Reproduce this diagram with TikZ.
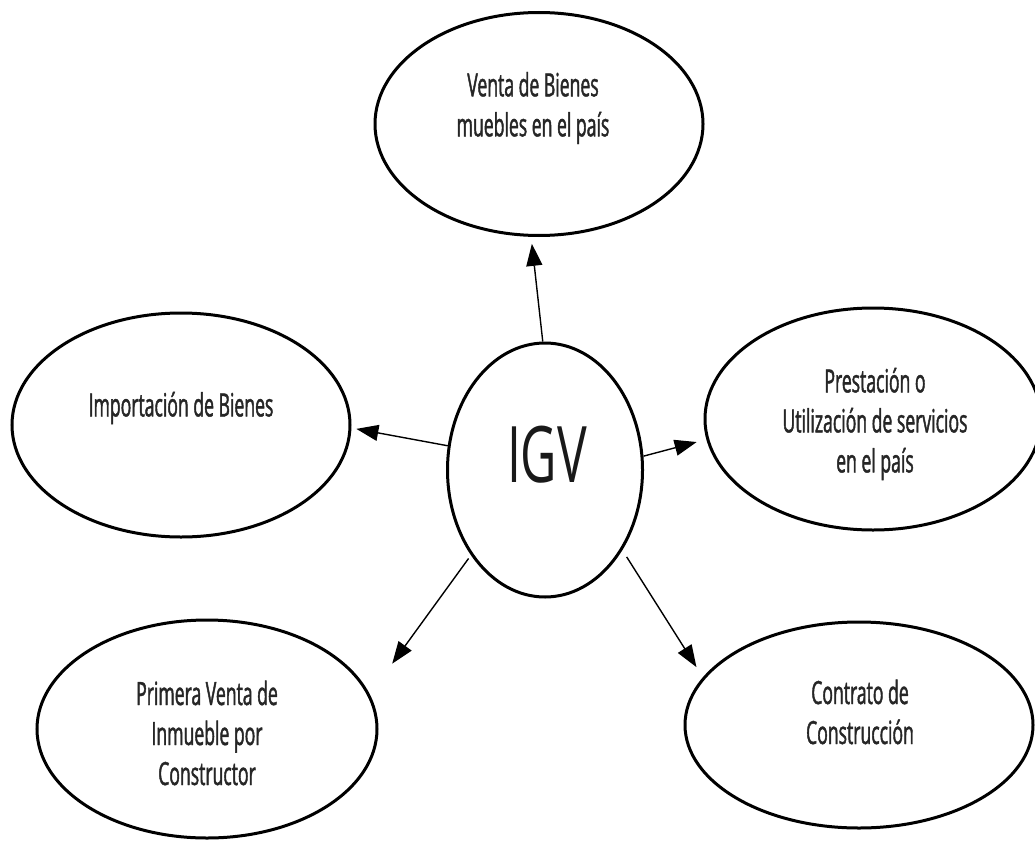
\documentclass[tikz,border=0pt]{standalone}
\usepackage{fontspec}
\setmainfont{Open Sans}[FakeStretch=0.55,FakeBold=1.3]
\newfontfamily\igvfont{Open Sans}[FakeStretch=0.64]
\usetikzlibrary{calc,shapes,arrows.meta,positioning}
\tikzset{
  bubble/.style={
    ellipse,
    draw=black,
    line width=3pt,
    inner sep=0pt
  },
  bubble label/.style={
    align=center,
    font=\fontsize{32}{40}\selectfont,
    text=black!85
  },
  tax arrow/.style={
    line width=1.4pt,
    -{Triangle[length=22pt,width=16pt]}
  }
}

\begin{document}
\begin{tikzpicture}[x=1pt,y=-1pt]
  \useasboundingbox (0,0) rectangle (1035,840);

  \node (igv) [bubble,minimum width=195pt,minimum height=254pt] at (545,470) {};
  \node (igv_label) [font=\igvfont\fontsize{78}{80}\selectfont,text=black!90] at ([xshift=2pt,yshift=15pt]igv) {IGV};

  \node (venta) [bubble,minimum width=328pt,minimum height=223pt] at (539,124) {};
  \node (venta_label) [bubble label] at ([xshift=-6pt,yshift=16pt]venta) {Venta de Bienes\\muebles en el país};

  \node (import) [bubble,minimum width=338pt,minimum height=224pt] at (181,425) {};
  \node (import_label) [bubble label] at ([yshift=17pt]import) {Importación de Bienes};

  \node (prest) [bubble,minimum width=336pt,minimum height=222pt] at (873,419) {};
  \node (prest_label) [bubble label] at ([xshift=2pt,yshift=-5pt]prest) {Prestación o\\Utilización de servicios\\en el país};

  \node (primera) [bubble,minimum width=340pt,minimum height=218pt] at (207,729) {};
  \node (primera_label) [bubble label] at ([yshift=-4pt]primera) {Primera Venta de\\Inmueble por\\Constructor};

  \node (contrato) [bubble,minimum width=348pt,minimum height=206pt] at (859,725) {};
  \node (contrato_label) [bubble label] at ([xshift=1pt,yshift=13pt]contrato) {Contrato de\\Construcción};

  % arrows out of the centre
  \draw[tax arrow,shorten >=7pt] (igv.91) -- (venta.266);
  \draw[tax arrow,shorten >=5pt] (igv.166) -- (import.359);
  \draw[tax arrow,shorten >=10pt] (igv.8) -- (prest.187);
  \draw[tax arrow,shorten <=4pt,shorten >=38pt] (igv.229) -- (primera.12);
  \draw[tax arrow,shorten <=8pt,shorten >=12pt] (igv.314) -- (contrato.163);

\end{tikzpicture}
\end{document}
